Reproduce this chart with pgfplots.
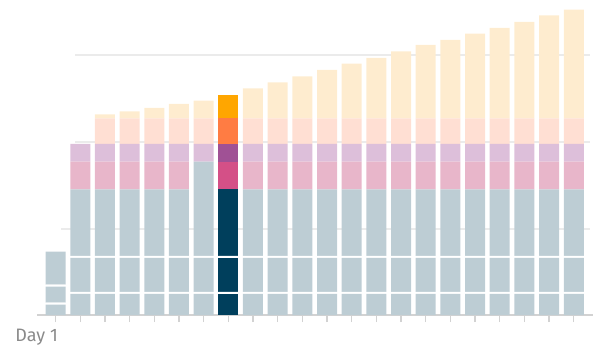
\documentclass[border=0pt]{standalone}
\usepackage{pgfplots}
\pgfplotsset{compat=1.18}
\usepackage{pgfplotstable}
\usepackage{fontspec}
\setmainfont{Fira Sans}
\definecolor{lblue}{HTML}{BDCDD4}
\definecolor{lpink}{HTML}{E8B6CA}
\definecolor{lpurple}{HTML}{DDBFDA}
\definecolor{lpeach}{HTML}{FFDFD3}
\definecolor{lyellow}{HTML}{FEECCF}
\definecolor{navy}{HTML}{003F5C}
\definecolor{dpink}{HTML}{D45087}
\definecolor{dpurple}{HTML}{A05195}
\definecolor{dorange}{HTML}{FF7C43}
\definecolor{gold}{HTML}{FFA600}
\definecolor{gridgray}{HTML}{EBEBEB}
\definecolor{axgray}{HTML}{D2D2D2}
\definecolor{labgray}{HTML}{8A8A8A}
\pgfplotstableread{
x bA nA gA bB nB gB bC nC pk Pk pu Pu pe Pe ye Ye
1 10.3 0 2 16 0 2 33 0 0 0 0 0 0 0 0 0
2 21 0 2 34 0 2 66.7 0 27.6 0 17.7 0 0 0 0 0
3 21 0 2 34 0 2 66.7 0 27.6 0 17.7 0 25.7 0 4 0
4 21 0 2 34 0 2 66.7 0 27.6 0 17.7 0 25.7 0 7 0
5 21 0 2 34 0 2 66.7 0 27.6 0 17.7 0 25.7 0 10.3 0
6 21 0 2 34 0 2 66.7 0 27.6 0 17.7 0 25.7 0 14.3 0
7 21 0 2 34 0 2 94.3 0 0 0 17.7 0 25.7 0 17.6 0
8 0 21 2 0 34 2 0 66.7 0 27.6 0 17.7 0 25.7 0 23.6
9 21 0 2 34 0 2 66.7 0 27.6 0 17.7 0 25.7 0 30 0
10 21 0 2 34 0 2 66.7 0 27.6 0 17.7 0 25.7 0 36 0
11 21 0 2 34 0 2 66.7 0 27.6 0 17.7 0 25.7 0 42 0
12 21 0 2 34 0 2 66.7 0 27.6 0 17.7 0 25.7 0 48.3 0
13 21 0 2 34 0 2 66.7 0 27.6 0 17.7 0 25.7 0 54.6 0
14 21 0 2 34 0 2 66.7 0 27.6 0 17.7 0 25.7 0 60.3 0
15 21 0 2 34 0 2 66.7 0 27.6 0 17.7 0 25.7 0 67 0
16 21 0 2 34 0 2 66.7 0 27.6 0 17.7 0 25.7 0 73.3 0
17 21 0 2 34 0 2 66.7 0 27.6 0 17.7 0 25.7 0 78.3 0
18 21 0 2 34 0 2 66.7 0 27.6 0 17.7 0 25.7 0 84.6 0
19 21 0 2 34 0 2 66.7 0 27.6 0 17.7 0 25.7 0 90.3 0
20 21 0 2 34 0 2 66.7 0 27.6 0 17.7 0 25.7 0 96.3 0
21 21 0 2 34 0 2 66.7 0 27.6 0 17.7 0 25.7 0 103 0
22 21 0 2 34 0 2 66.7 0 27.6 0 17.7 0 25.7 0 108.6 0
}\data
\pgfplotsset{frameaxis/.style={
  at={(37.3bp,39bp)}, anchor=south west,
  scale only axis, width=555.7bp, height=310bp,
  xmin=0.258, xmax=22.78, ymin=0, ymax=310, clip=false}}
\begin{document}
\begin{tikzpicture}
\path[use as bounding box] (0,0) rectangle (600bp,354bp);
% grid layer (behind the bars)
\begin{axis}[frameaxis, axis lines=none, xtick=\empty, ytick=\empty]
\draw[gridgray, line width=2bp] (axis cs:1.219,86.2) -- (axis cs:22.66,86.2);
\draw[gridgray, line width=2bp] (axis cs:1.806,173.3) -- (axis cs:22.66,173.3);
\draw[gridgray, line width=2bp] (axis cs:1.806,260.3) -- (axis cs:22.66,260.3);
\end{axis}
\begin{axis}[frameaxis,
  ybar stacked, bar width=20bp,
  axis x line=bottom, axis y line=none,
  axis line style={draw=axgray, line width=2bp, -},
  xtick={1,...,22}, xticklabel=\empty, ytick=\empty,
  major tick length=7bp, tick align=outside,
  tick style={draw=axgray, line width=1.3bp},
  every axis plot/.append style={draw=none},
]
\addplot[fill=lblue] table[x=x,y=bA]{\data};
\addplot[fill=navy] table[x=x,y=nA]{\data};
\addplot[fill=white] table[x=x,y=gA]{\data};
\addplot[fill=lblue] table[x=x,y=bB]{\data};
\addplot[fill=navy] table[x=x,y=nB]{\data};
\addplot[fill=white] table[x=x,y=gB]{\data};
\addplot[fill=lblue] table[x=x,y=bC]{\data};
\addplot[fill=navy] table[x=x,y=nC]{\data};
\addplot[fill=lpink] table[x=x,y=pk]{\data};
\addplot[fill=dpink] table[x=x,y=Pk]{\data};
\addplot[fill=lpurple] table[x=x,y=pu]{\data};
\addplot[fill=dpurple] table[x=x,y=Pu]{\data};
\addplot[fill=lpeach] table[x=x,y=pe]{\data};
\addplot[fill=dorange] table[x=x,y=Pe]{\data};
\addplot[fill=lyellow] table[x=x,y=ye]{\data};
\addplot[fill=gold] table[x=x,y=Ye]{\data};
\end{axis}
\node[anchor=base east, text=labgray, font=\fontsize{18bp}{20bp}\selectfont, inner sep=0pt] at (58bp,12.3bp) {Day 1};
\end{tikzpicture}
\end{document}
